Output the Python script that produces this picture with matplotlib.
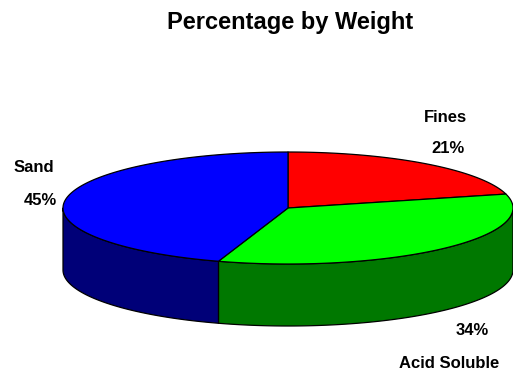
import numpy as np
import matplotlib
matplotlib.use("Agg")
import matplotlib.pyplot as plt
from matplotlib.patches import Polygon

# Composition data
categories = ["Fines", "Acid Soluble", "Sand"]
percentages = [21, 34, 45]
top_colors = ["#ff0000", "#00ff00", "#0000ff"]
side_colors = ["#800000", "#007800", "#000078"]

plt.rcParams["font.family"] = ["Liberation Sans", "DejaVu Sans"]

fig = plt.figure(figsize=(5.13, 3.71), dpi=100)
ax = fig.add_axes([0, 0, 1, 1])
ax.set_xlim(0, 513)
ax.set_ylim(371, 0)
ax.axis("off")

# Pie geometry (pixel space, tilted ellipse)
cx, cy = 288.0, 208.0
rx, ry = 225.0, 56.0
depth = 62.0


def rim(theta_deg, dy=0.0):
    t = np.radians(theta_deg)
    return cx + rx * np.sin(t), cy - ry * np.cos(t) + dy


vals = np.array(percentages, dtype=float)
bounds = np.concatenate([[0.0], np.cumsum(vals) / vals.sum() * 360.0])

# Side walls: only the front half (90..270 degrees clockwise from top)
for i in range(len(vals)):
    a0, a1 = max(bounds[i], 90.0), min(bounds[i + 1], 270.0)
    if a1 <= a0:
        continue
    th = np.linspace(a0, a1, 200)
    xt, yt = rim(th)
    xb, yb = rim(th[::-1], depth)
    pts = np.column_stack([np.concatenate([xt, xb]), np.concatenate([yt, yb])])
    ax.add_patch(Polygon(pts, closed=True, facecolor=side_colors[i],
                         edgecolor="black", linewidth=0.9, joinstyle="round"))

# Top faces
for i in range(len(vals)):
    th = np.linspace(bounds[i], bounds[i + 1], 300)
    xt, yt = rim(th)
    pts = np.column_stack([np.concatenate([[cx], xt]), np.concatenate([[cy], yt])])
    ax.add_patch(Polygon(pts, closed=True, facecolor=top_colors[i],
                         edgecolor="black", linewidth=0.9, joinstyle="round"))

# Title and labels
ax.text(290, 29, "Percentage by Weight", ha="center", va="baseline",
        fontsize=17, fontweight="bold")

label_pos = {
    "Fines": ((445, 122), (448, 153)),
    "Acid Soluble": ((449, 368), (472, 335)),
    "Sand": ((34, 172), (40, 205)),
}
for name, pct in zip(categories, percentages):
    (nx, ny), (px, py) = label_pos[name]
    ax.text(nx, ny, name, ha="center", va="baseline", fontsize=12, fontweight="bold")
    ax.text(px, py, f"{pct}%", ha="center", va="baseline", fontsize=12, fontweight="bold")

fig.savefig("out.png", dpi=100)
